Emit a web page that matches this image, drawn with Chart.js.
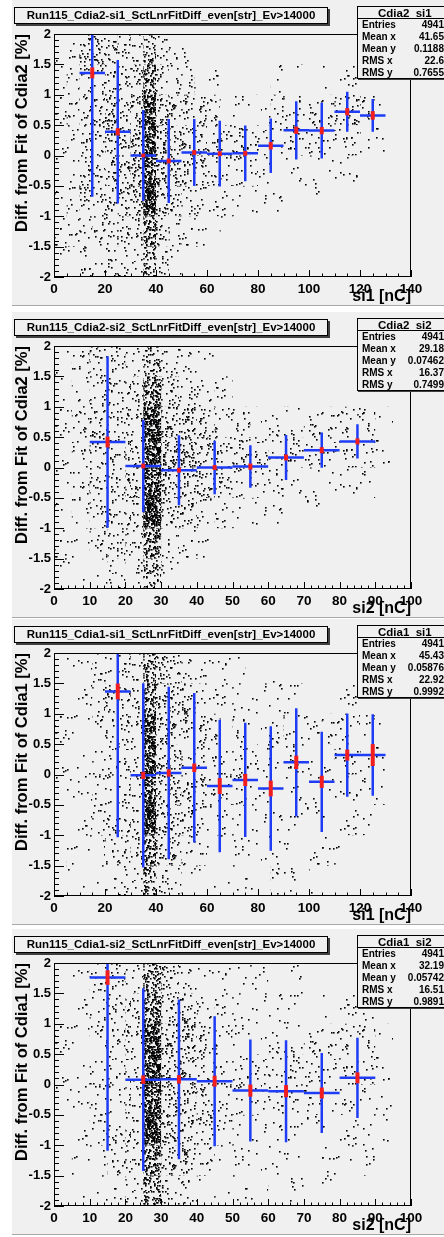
<!DOCTYPE html>
<html>
<head>
<meta charset="utf-8">
<script src="https://cdn.jsdelivr.net/npm/chart.js@4.4.1/dist/chart.umd.min.js"></script>
<style>
  html, body { margin: 0; padding: 0; background: #fff; }
  body { width: 444px; height: 1237px; overflow: hidden; position: relative; font-family: "Liberation Sans", Arial, sans-serif; }
  .panel { position: absolute; left: 12px; width: 432px; height: 305px; background: #f0f0f0; border-bottom: 1px solid #a8a8a8; }
  .panel canvas { position: absolute; left: -12px; top: 0; }
  .title { position: absolute; left: 2px; top: 7px; width: 312px; height: 15px; border: 1px solid #000; background: #f0f0f0;
           box-shadow: 2px 2px 0 #404040; font: bold 11.5px "Liberation Sans", Arial, sans-serif; line-height: 15px; text-align: center; white-space: nowrap; }
  .stats { position: absolute; left: 345px; top: 6px; width: 100px; height: 71px; border: 1px solid #000; background: #f0f0f0;
           box-shadow: 1px 1px 0 #404040; font: bold 10px "Liberation Sans", Arial, sans-serif; }
  .stats .head { height: 11px; line-height: 12px; border-bottom: 1px solid #000; text-align: left; padding-left: 20px; font-size: 11.5px; font-weight: bold; }
  .stats .row { position: relative; height: 12px; line-height: 12px; }
  .stats .row .k { position: absolute; left: 4px; }
  .stats .row .v { position: absolute; right: 14px; }
</style>
</head>
<body>
<script>
// panel titles and axis titles
const panelTitles = [
  'Run115_Cdia2-si1_SctLnrFitDiff_even[str]_Ev>14000',
  'Run115_Cdia2-si2_SctLnrFitDiff_even[str]_Ev>14000',
  'Run115_Cdia1-si1_SctLnrFitDiff_even[str]_Ev>14000',
  'Run115_Cdia1-si2_SctLnrFitDiff_even[str]_Ev>14000'
];
const statTitles = ['Cdia2_si1', 'Cdia2_si2', 'Cdia1_si1', 'Cdia1_si2'];
const xTitles = ['si1 [nC]', 'si2 [nC]', 'si1 [nC]', 'si2 [nC]'];
const yTitles = ['Diff. from Fit of Cdia2 [%]', 'Diff. from Fit of Cdia2 [%]', 'Diff. from Fit of Cdia1 [%]', 'Diff. from Fit of Cdia1 [%]'];
const xRanges = [140, 100, 140, 100];
const xLabelSteps = [20, 10, 20, 10];

// stats box
const statNames = ['Entries', 'Mean x', 'Mean y', 'RMS x', 'RMS y'];
const stats1 = ['4941', '41.65', '0.1188', '22.6', '0.7655'];
const stats2 = ['4941', '29.18', '0.07462', '16.37', '0.7499'];
const stats3 = ['4941', '45.43', '0.05876', '22.92', '0.9992'];
const stats4 = ['4941', '32.19', '0.05742', '16.51', '0.9891'];

// profile points: bin centre, mean, spread (blue), error on mean (red)
const centers1 = [15, 25, 35, 45, 55, 65, 75, 85, 95, 105, 115, 125];
const mean1    = [1.36, 0.39, 0.0, -0.09, 0.05, 0.03, 0.035, 0.16, 0.415, 0.41, 0.72, 0.66];
const spread1  = [2.04, 1.18, 0.75, 0.69, 0.55, 0.54, 0.46, 0.45, 0.48, 0.46, 0.33, 0.27];
const err1     = [0.09, 0.06, 0.03, 0.04, 0.04, 0.04, 0.04, 0.06, 0.06, 0.06, 0.06, 0.07];

const centers2 = [15, 25, 35, 45, 55, 65, 75, 85];
const mean2    = [0.42, 0.025, -0.045, 0.0, 0.015, 0.165, 0.285, 0.43];
const spread2  = [1.41, 0.76, 0.575, 0.44, 0.35, 0.37, 0.29, 0.28];
const err2     = [0.09, 0.04, 0.04, 0.04, 0.05, 0.05, 0.05, 0.05];

const centers3 = [25, 35, 45, 55, 65, 75, 85, 95, 105, 115, 125];
const mean3    = [1.367, -0.014, 0.025, 0.11, -0.19, -0.09, -0.23, 0.2, -0.12, 0.32, 0.32];
const spread3  = [2.4, 1.515, 1.42, 1.23, 1.09, 0.94, 1.025, 0.89, 0.825, 0.685, 0.67];
const err3     = [0.13, 0.06, 0.06, 0.07, 0.13, 0.1, 0.13, 0.11, 0.1, 0.09, 0.18];

const centers4 = [15, 25, 35, 45, 55, 65, 75, 85];
const mean4    = [1.76, 0.08, 0.085, 0.055, -0.1, -0.11, -0.14, 0.11];
const spread4  = [2.85, 1.505, 1.315, 1.07, 0.84, 0.84, 0.66, 0.66];
const err4     = [0.12, 0.07, 0.07, 0.09, 0.1, 0.1, 0.09, 0.09];

// scatter density: rows from y=2 down to y=-2 (0.5 per row),
// one digit per 5 nC column, 0 = empty .. 9 = densest
const cloud1 = [
  '1234433621100000000000000000',
  '1233444832211000010101110000',
  '1233444943332111122222332100',
  '1233445954443332222222221100',
  '1233445954433222111111110000',
  '1233344943221111110010000000',
  '1223333832110100000000000000',
  '1122322621000000000000000000'
];
const cloud2 = [
  '12332522100000000000',
  '12333832210000000000',
  '12333944322111222210',
  '12334955433322222210',
  '12334954432221111100',
  '12333933211110100000',
  '11232821100000000000',
  '11121510000000000000'
];
const cloud3 = [
  '0112233733221110010000000000',
  '0112333843331111111110110000',
  '1112233943332121112112221100',
  '1112233944332222112111221100',
  '1112233944332221111111111100',
  '0112233943322111111111111000',
  '0111223833221111111011100000',
  '0111122722111111011010000000'
];
const cloud4 = [
  '01232732111101000000',
  '01223833211111011100',
  '11223944321111222210',
  '11223944322222222210',
  '11223944322222222110',
  '01223943321111111110',
  '01122833211111011100',
  '01112722111101010000'
];

const panelTops = [0, 312, 619, 929];
const panels = [
  { stats: stats1, centers: centers1, mean: mean1, spread: spread1, err: err1, cloud: cloud1 },
  { stats: stats2, centers: centers2, mean: mean2, spread: spread2, err: err2, cloud: cloud2 },
  { stats: stats3, centers: centers3, mean: mean3, spread: spread3, err: err3, cloud: cloud3 },
  { stats: stats4, centers: centers4, mean: mean4, spread: spread4, err: err4, cloud: cloud4 }
];

// dots per 1000 px^2 for each density level (texture only)
const levelDensity = [0, 10, 22, 38, 58, 82, 115, 165, 240, 400];
const patternCache = {};
function dotPattern(ctx, level) {
  if (patternCache[level]) return patternCache[level];
  const size = 131;
  const c = document.createElement('canvas');
  c.width = c.height = size;
  const g = c.getContext('2d');
  g.fillStyle = '#000';
  let seed = 987654321 + level * 7919;
  const next = () => { seed = (Math.imul(seed, 1103515245) + 12345) >>> 0; return seed >>> 8; };
  const n = Math.round(levelDensity[level] * size * size / 1000);
  for (let i = 0; i < n; i++) {
    g.fillRect(next() % size, next() % size, 1.6, 1.6);
  }
  patternCache[level] = ctx.createPattern(c, 'repeat');
  return patternCache[level];
}

const rootPlugin = {
  id: 'rootPlot',
  beforeDatasetsDraw(chart) {
    const p = chart.options.plugins.rootPlot;
    const ctx = chart.ctx, xs = chart.scales.x, ys = chart.scales.y;
    const a = chart.chartArea;
    ctx.save();
    ctx.beginPath();
    ctx.rect(a.left, a.top, a.right - a.left, a.bottom - a.top);
    ctx.clip();
    // scatter cloud
    p.cloud.forEach((row, r) => {
      for (let c = 0; c < row.length; c++) {
        const lv = +row[c];
        if (!lv) continue;
        const x0 = xs.getPixelForValue(c * 5), x1 = xs.getPixelForValue(c * 5 + 5);
        const y0 = ys.getPixelForValue(2 - r * 0.5), y1 = ys.getPixelForValue(1.5 - r * 0.5);
        ctx.fillStyle = dotPattern(ctx, lv);
        ctx.fillRect(x0, y0, x1 - x0, y1 - y0);
      }
    });
    // profile: blue spread bars
    ctx.strokeStyle = '#1e3cf5';
    ctx.lineWidth = 2.5;
    p.centers.forEach((x, i) => {
      const px = xs.getPixelForValue(x), py = ys.getPixelForValue(p.mean[i]);
      ctx.beginPath();
      ctx.moveTo(xs.getPixelForValue(x - 5), py);
      ctx.lineTo(xs.getPixelForValue(x + 5), py);
      ctx.moveTo(px, ys.getPixelForValue(p.mean[i] + p.spread[i]));
      ctx.lineTo(px, ys.getPixelForValue(p.mean[i] - p.spread[i]));
      ctx.stroke();
    });
    // red error on mean
    ctx.strokeStyle = '#f01e1e';
    ctx.lineWidth = 4;
    p.centers.forEach((x, i) => {
      const px = xs.getPixelForValue(x);
      ctx.beginPath();
      ctx.moveTo(px, ys.getPixelForValue(p.mean[i] + p.err[i]));
      ctx.lineTo(px, ys.getPixelForValue(p.mean[i] - p.err[i]));
      ctx.stroke();
    });
    ctx.restore();
  },
  afterDraw(chart) {
    const p = chart.options.plugins.rootPlot;
    const ctx = chart.ctx, xs = chart.scales.x, ys = chart.scales.y;
    const a = chart.chartArea;
    ctx.save();
    ctx.strokeStyle = '#000';
    ctx.lineWidth = 1;
    ctx.strokeRect(Math.round(a.left) + 0.5, Math.round(a.top) + 0.5, Math.round(a.right - a.left) - 1, Math.round(a.bottom - a.top) - 1);
    ctx.beginPath();
    // x ticks inside the frame
    const nx = Math.round(p.xMax / p.xMinor);
    for (let k = 0; k <= nx; k++) {
      const v = k * p.xMinor;
      const major = Math.abs(v / p.xStep - Math.round(v / p.xStep)) < 1e-6;
      const px = Math.round(xs.getPixelForValue(v)) + 0.5;
      ctx.moveTo(px, a.bottom);
      ctx.lineTo(px, a.bottom - (major ? 7 : 3.5));
    }
    // y ticks
    for (let k = 0; k <= 40; k++) {
      const v = -2 + k * 0.1;
      const major = k % 5 === 0;
      const py = Math.round(ys.getPixelForValue(v)) + 0.5;
      ctx.moveTo(a.left, py);
      ctx.lineTo(a.left + (major ? 10 : 5), py);
    }
    ctx.stroke();
    ctx.restore();
  }
};

panels.forEach((pn, i) => {
  const div = document.createElement('div');
  div.className = 'panel';
  div.style.top = panelTops[i] + 'px';
  document.body.appendChild(div);

  const canvas = document.createElement('canvas');
  canvas.width = 444;
  canvas.height = 306;
  div.appendChild(canvas);

  const t = document.createElement('div');
  t.className = 'title';
  t.textContent = panelTitles[i];
  div.appendChild(t);

  const s = document.createElement('div');
  s.className = 'stats';
  const head = document.createElement('div');
  head.className = 'head';
  head.textContent = statTitles[i];
  s.appendChild(head);
  statNames.forEach((name, k) => {
    const row = document.createElement('div');
    row.className = 'row';
    const kk = document.createElement('span'); kk.className = 'k'; kk.textContent = name;
    const vv = document.createElement('span'); vv.className = 'v'; vv.textContent = pn.stats[k];
    row.appendChild(kk); row.appendChild(vv);
    s.appendChild(row);
  });
  div.appendChild(s);

  const xMax = xRanges[i];
  new Chart(canvas, {
    type: 'scatter',
    data: {
      datasets: [{
        data: pn.centers.map((x, k) => ({ x: x, y: pn.mean[k] })),
        pointRadius: 0,
        showLine: false
      }]
    },
    options: {
      responsive: false,
      animation: false,
      events: [],
      layout: { padding: { left: 0, right: 33, top: 34, bottom: 0 } },
      plugins: {
        legend: { display: false },
        tooltip: { enabled: false },
        rootPlot: { cloud: pn.cloud, centers: pn.centers, mean: pn.mean, spread: pn.spread, err: pn.err,
                    xMax: xMax, xStep: xLabelSteps[i], xMinor: xMax === 140 ? 5 : 2 }
      },
      scales: {
        x: {
          type: 'linear', min: 0, max: xMax,
          border: { display: false },
          grid: { display: false, drawTicks: false },
          ticks: { stepSize: xLabelSteps[i], color: '#000', padding: 4, maxRotation: 0, autoSkip: false,
                   font: { family: 'Liberation Sans', weight: 'bold', size: 13.5 } },
          title: { display: true, text: xTitles[i], align: 'end', color: '#000', padding: 0,
                   font: { family: 'Liberation Sans', weight: 'bold', size: 16 } },
          afterFit: sc => { sc.height = 29; }
        },
        y: {
          type: 'linear', min: -2, max: 2,
          border: { display: false },
          grid: { display: false, drawTicks: false },
          ticks: { stepSize: 0.5, color: '#000', padding: 3,
                   callback: v => String(Math.round(v * 10) / 10),
                   font: { family: 'Liberation Sans', weight: 'bold', size: 13 } },
          title: { display: true, text: yTitles[i], align: 'end', color: '#000', padding: { top: 13, bottom: 0 },
                   font: { family: 'Liberation Sans', weight: 'bold', size: 16.5 } },
          afterFit: sc => { sc.width = 54; }
        }
      }
    },
    plugins: [rootPlugin]
  });
});
</script>
</body>
</html>
